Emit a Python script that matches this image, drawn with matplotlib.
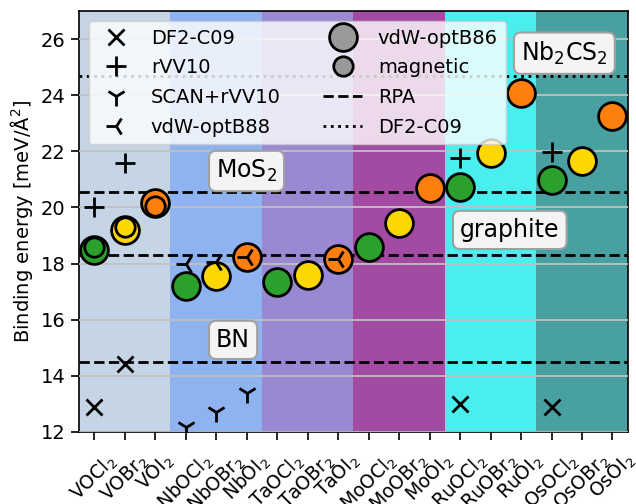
import matplotlib
matplotlib.use("Agg")
import matplotlib.pyplot as plt
from matplotlib.lines import Line2D

# compounds along the x axis
labels = ['VOCl$_2$', 'VOBr$_2$', 'VOI$_2$',
          'NbOCl$_2$', 'NbOBr$_2$', 'NbOI$_2$',
          'TaOCl$_2$', 'TaOBr$_2$', 'TaOI$_2$',
          'MoOCl$_2$', 'MoOBr$_2$', 'MoOI$_2$',
          'RuOCl$_2$', 'RuOBr$_2$', 'RuOI$_2$',
          'OsOCl$_2$', 'OsOBr$_2$', 'OsOI$_2$']
halide_colors = ['#2ca02c', '#ffd700', '#ff7f0e']
group_colors = ['#c6d5e6', '#8fb2f0', '#9a88d2', '#a34ba3', '#4aeeee', '#48a0a0']

# binding energies [meV/A^2]
optb86 = [18.5, 19.2, 20.15, 17.2, 17.56, 18.23, 17.33, 17.6, 18.18,
          18.6, 19.45, 20.7, 20.73, 21.93, 24.08, 20.98, 21.65, 23.27]
mag_idx = [0, 1, 2]
mag_val = [18.6, 19.3, 20.05]
df2_idx = [0, 1, 12, 15]
df2_val = [12.89, 14.42, 13.0, 12.9]
rvv_idx = [0, 1, 12, 15]
rvv_val = [20.0, 21.58, 21.77, 21.98]
scan_idx = [3, 4, 5]
scan_val = [12.18, 12.72, 13.38]
b88_idx = [3, 4, 5, 8]
b88_val = [18.0, 18.06, 18.23, 18.18]

# reference values
rpa_ref = {'MoS$_2$': 20.55, 'graphite': 18.3, 'BN': 14.5}
df2_ref = {'Nb$_2$CS$_2$': 24.7}
ref_label_pos = {'MoS$_2$': (4.0, 21.3), 'BN': (4.0, 15.28),
                 'graphite': (12.0, 19.2), 'Nb$_2$CS$_2$': (14.0, 25.5)}

plt.rcParams['font.size'] = 14

fig, ax = plt.subplots(figsize=(6.36, 5.04), dpi=100)
fig.subplots_adjust(left=0.124, right=0.987, top=0.978, bottom=0.143)

for g, c in enumerate(group_colors):
    ax.axvspan(3*g - 0.5, 3*g + 2.5, color=c, lw=0, zorder=0)

ax.yaxis.grid(True, color='#c0c0c0', lw=1.3, zorder=1)
ax.set_axisbelow(False)

for name, v in rpa_ref.items():
    ax.axhline(v, color='k', ls='--', lw=2, zorder=2)
for name, v in df2_ref.items():
    ax.axhline(v, color='k', ls=':', lw=2, zorder=2)

for name, (xp, yp) in ref_label_pos.items():
    ax.text(xp, yp, name, fontsize=17, ha='left', va='center', zorder=3,
            bbox=dict(boxstyle='round,pad=0.3', fc='#f4f4f4', ec='#a0a0a0', lw=1.5))

for i, v in enumerate(optb86):
    ax.plot(i, v, 'o', ms=20, mfc=halide_colors[i % 3], mec='k', mew=2, zorder=4)
for i, v in zip(mag_idx, mag_val):
    ax.plot(i, v, 'o', ms=14, mfc=halide_colors[i % 3], mec='k', mew=2, zorder=5)

ax.plot(df2_idx, df2_val, 'x', ms=12, mew=2, color='k', ls='none', zorder=6)
ax.plot(rvv_idx, rvv_val, '+', ms=14, mew=2, color='k', ls='none', zorder=6)
ax.plot(scan_idx, scan_val, '1', ms=14, mew=2, color='k', ls='none', zorder=6)
ax.plot(b88_idx, b88_val, '3', ms=14, mew=2, color='k', ls='none', zorder=6)

handles = [
    Line2D([], [], marker='x', ms=12, mew=2, color='k', ls='none'),
    Line2D([], [], marker='+', ms=14, mew=2, color='k', ls='none'),
    Line2D([], [], marker='1', ms=14, mew=2, color='k', ls='none'),
    Line2D([], [], marker='3', ms=14, mew=2, color='k', ls='none'),
    Line2D([], [], marker='o', ms=20, mfc='#999999', mec='k', mew=2, ls='none'),
    Line2D([], [], marker='o', ms=14, mfc='#999999', mec='k', mew=2, ls='none'),
    Line2D([], [], color='k', ls='--', lw=2),
    Line2D([], [], color='k', ls=':', lw=2),
]
names = ['DF2-C09', 'rVV10', 'SCAN+rVV10', 'vdW-optB88',
         'vdW-optB86', 'magnetic', 'RPA', 'DF2-C09']
leg = ax.legend(handles, names, loc='upper left', ncol=2, framealpha=0.8,
                columnspacing=2.2, labelspacing=0.55)
leg.set_zorder(7)

ax.set_xlim(-0.5, 17.5)
ax.set_ylim(12, 27)
ax.set_yticks([12, 14, 16, 18, 20, 22, 24, 26])
ax.set_xticks(range(len(labels)))
ax.set_xticklabels(labels, rotation=45, fontsize=13.5)
ax.tick_params(length=6, width=1.2)
ax.tick_params(axis='x', pad=7)
for s in ax.spines.values():
    s.set_linewidth(1.2)
ax.set_ylabel('Binding energy [meV/Å$^2$]')

fig.savefig('out.png', dpi=100)
